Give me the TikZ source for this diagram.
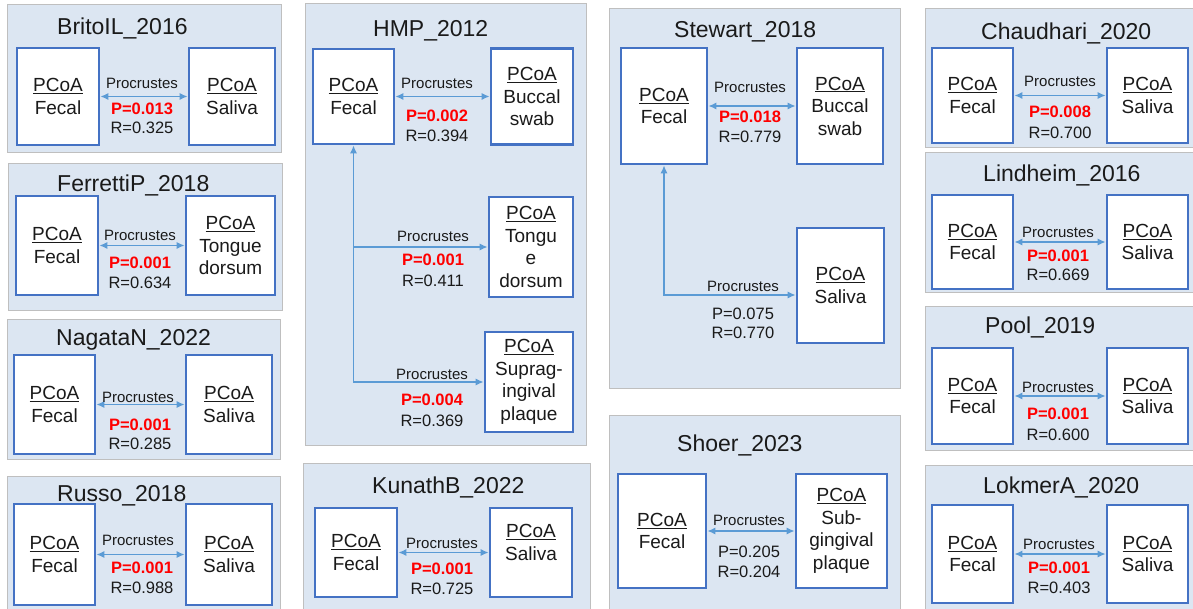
\documentclass[tikz,border=0pt]{standalone}
\usepackage{fontspec}
\setmainfont{Liberation Sans}
\usetikzlibrary{arrows.meta}
\definecolor{panelbg}{HTML}{DCE6F2}
\definecolor{panelline}{HTML}{BFBFBF}
\definecolor{boxline}{HTML}{4472C4}
\definecolor{arrowline}{HTML}{5B9BD5}
\definecolor{pred}{HTML}{FF0000}
\definecolor{txt}{HTML}{1A1A1A}

\begin{document}
\begin{tikzpicture}[x=1pt,y=-1pt,
  panel/.style={fill=panelbg,draw=panelline,line width=1pt},
  title/.style={anchor=west,inner sep=0pt,text=txt,font=\fontsize{23}{27}\selectfont,text height=16.4pt,text depth=0pt},
  pcoa/.style={draw=boxline,fill=white,line width=2.6pt,align=center,inner sep=0pt,text=txt,font=\fontsize{19}{22.5}\selectfont},
  link/.style={arrowline,line width=1.5pt,>={Latex[length=8pt,width=7pt]}},
  proc/.style={inner sep=0pt,text=txt,font=\fontsize{15}{18}\selectfont,text height=10.7pt,text depth=0pt},
  pv/.style={inner sep=0pt,text=pred,font=\bfseries\fontsize{16.5}{20}\selectfont,text height=11.8pt,text depth=0pt},
  rv/.style={inner sep=0pt,text=txt,font=\fontsize{16.5}{20}\selectfont,text height=11.8pt,text depth=0pt}]
\useasboundingbox (0,0) rectangle (1193,609);

% BritoIL_2016
\draw[panel] (7,5) rectangle (281,153);
\node[title] (brt) at (57,26) {BritoIL\_2016};
\node[pcoa,minimum width=82pt,minimum height=97pt] (brf) at (58,96.5) {\underline{PCoA}\\Fecal};
\node[pcoa,minimum width=86pt,minimum height=97pt] (brs) at (232,96.5) {\underline{PCoA}\\Saliva};
\path[link,<->] (brf) edge (brs);
\node[proc] (brc) at (142,83) {Procrustes};
\node[pv] (brp) at (142,109) {P=0.013};
\node[rv] (brr) at (142,128) {R=0.325};

% FerrettiP_2018
\draw[panel] (8,164) rectangle (282,311);
\node[title] (fet) at (57,183) {FerrettiP\_2018};
\node[pcoa,minimum width=82pt,minimum height=99pt] (fef) at (57,245.5) {\underline{PCoA}\\Fecal};
\node[pcoa,minimum width=89pt,minimum height=99pt] (fes) at (230.5,245.5) {\underline{PCoA}\\Tongue\\dorsum};
\path[link,<->] (fef) edge (fes);
\node[proc] (fec) at (140,235) {Procrustes};
\node[pv] (fep) at (140,263) {P=0.001};
\node[rv] (fer) at (140,283) {R=0.634};

% NagataN_2022
\draw[panel] (7,320) rectangle (280,459);
\node[title] (nat) at (56,337) {NagataN\_2022};
\node[pcoa,minimum width=81pt,minimum height=99pt] (naf) at (54.5,404.5) {\underline{PCoA}\\Fecal};
\node[pcoa,minimum width=86pt,minimum height=99pt] (nas) at (229,404.5) {\underline{PCoA}\\Saliva};
\path[link,<->] (naf) edge (nas);
\node[proc] (nac) at (138,397) {Procrustes};
\node[pv] (nap) at (140,425) {P=0.001};
\node[rv] (nar) at (140,444) {R=0.285};

% Russo_2018
\draw[panel] (7,476) rectangle (280,620);
\node[title] (rut) at (57,493) {Russo\_2018};
\node[pcoa,minimum width=81pt,minimum height=101pt] (ruf) at (54.5,554.5) {\underline{PCoA}\\Fecal};
\node[pcoa,minimum width=86pt,minimum height=101pt] (rus) at (229,554.5) {\underline{PCoA}\\Saliva};
\path[link,<->] (ruf) edge (rus);
\node[proc] (ruc) at (138,540) {Procrustes};
\node[pv] (rup) at (142,568) {P=0.001};
\node[rv] (rur) at (142,588) {R=0.988};

% HMP_2012
\draw[panel] (305,4) rectangle (586,445);
\node[title] (hmt) at (373,28) {HMP\_2012};
\node[pcoa,minimum width=81pt,minimum height=95pt] (hmf) at (353.5,96.5) {\underline{PCoA}\\Fecal};
\node[pcoa,minimum width=82pt,minimum height=96pt] (hmb) at (532,96.5) {\underline{PCoA}\\Buccal\\swab};
\node[pcoa,minimum width=84pt,minimum height=100pt] (hmd) at (531,247) {\underline{PCoA}\\Tongu\\e\\dorsum};
\node[pcoa,minimum width=88pt,minimum height=100pt] (hms) at (529,382) {\underline{PCoA}\\Suprag-\\ingival\\plaque};
\path[link,<->] (hmf) edge (hmb);
\draw[link,<->] (hmf) |- (hms);
\draw[link,->] (hmf |- hmd) -- (hmd);
\node[proc] (hmc1) at (437,83) {Procrustes};
\node[pv] (hmp1) at (437,116) {P=0.002};
\node[rv] (hmr1) at (437,136) {R=0.394};
\node[proc] (hmc2) at (433,236) {Procrustes};
\node[pv] (hmp2) at (433,260) {P=0.001};
\node[rv] (hmr2) at (433,281) {R=0.411};
\node[proc] (hmc3) at (432,374) {Procrustes};
\node[pv] (hmp3) at (432,400) {P=0.004};
\node[rv] (hmr3) at (432,421) {R=0.369};

% KunathB_2022
\draw[panel] (303,463) rectangle (590,620);
\node[title] (kut) at (372,485) {KunathB\_2022};
\node[pcoa,minimum width=82pt,minimum height=89pt] (kuf) at (356,552.5) {\underline{PCoA}\\Fecal};
\node[pcoa,minimum width=82pt,minimum height=89pt,text depth=20pt] (kus) at (531,552.5) {\underline{PCoA}\\Saliva};
\path[link,<->] (kuf) edge (kus);
\node[proc] (kuc) at (442,543) {Procrustes};
\node[pv] (kup) at (442,569) {P=0.001};
\node[rv] (kur) at (442,589) {R=0.725};

% Stewart_2018
\draw[panel] (609,9) rectangle (900,388);
\node[title] (stt) at (674,29) {Stewart\_2018};
\node[pcoa,minimum width=86pt,minimum height=116pt] (stf) at (664,106) {\underline{PCoA}\\Fecal};
\node[pcoa,minimum width=86pt,minimum height=116pt] (stb) at (840,106) {\underline{PCoA}\\Buccal\\swab};
\node[pcoa,minimum width=87pt,minimum height=115pt] (sts) at (840.5,285.5) {\underline{PCoA}\\Saliva};
\path[link,<->] (stf) edge (stb);
\draw[link,<->] (stf) |- ([yshift=-9.5pt]sts.west);
\node[proc] (stc1) at (750,87) {Procrustes};
\node[pv] (stp1) at (750,117) {P=0.018};
\node[rv] (str1) at (750,137) {R=0.779};
\node[proc] (stc2) at (743,286) {Procrustes};
\node[rv] (stp2) at (743,314) {P=0.075};
\node[rv] (str2) at (743,333) {R=0.770};

% Shoer_2023
\draw[panel] (609,415) rectangle (900,620);
\node[title] (sht) at (677,443) {Shoer\_2023};
\node[pcoa,minimum width=88pt,minimum height=114pt] (shf) at (662,531) {\underline{PCoA}\\Fecal};
\node[pcoa,minimum width=91pt,minimum height=114pt] (shs) at (841.5,531) {\underline{PCoA}\\Sub-\\gingival\\plaque};
\path[link,<->] (shf) edge (shs);
\node[proc] (shc) at (749,520) {Procrustes};
\node[rv] (shp) at (749,552) {P=0.205};
\node[rv] (shr) at (749,572) {R=0.204};

% Chaudhari_2020
\draw[panel] (925,9) rectangle (1200,148);
\node[title] (cht) at (981,31) {Chaudhari\_2020};
\node[pcoa,minimum width=81pt,minimum height=95pt] (chf) at (972.5,95.5) {\underline{PCoA}\\Fecal};
\node[pcoa,minimum width=81pt,minimum height=95pt] (chs) at (1147.5,95.5) {\underline{PCoA}\\Saliva};
\path[link,<->] (chf) edge (chs);
\node[proc] (chc) at (1060,81) {Procrustes};
\node[pv] (chp) at (1060,112) {P=0.008};
\node[rv] (chr) at (1060,133) {R=0.700};

% Lindheim_2016
\draw[panel] (925,153) rectangle (1200,293);
\node[title] (lit) at (983,173) {Lindheim\_2016};
\node[pcoa,minimum width=81pt,minimum height=94pt] (lif) at (972.5,242) {\underline{PCoA}\\Fecal};
\node[pcoa,minimum width=81pt,minimum height=94pt] (lis) at (1147.5,242) {\underline{PCoA}\\Saliva};
\path[link,<->] (lif) edge (lis);
\node[proc] (lic) at (1058,232) {Procrustes};
\node[pv] (lip) at (1058,256) {P=0.001};
\node[rv] (lir) at (1058,275) {R=0.669};

% Pool_2019
\draw[panel] (925,307) rectangle (1200,450);
\node[title] (pot) at (985,325) {Pool\_2019};
\node[pcoa,minimum width=81pt,minimum height=96pt] (pof) at (972.5,396) {\underline{PCoA}\\Fecal};
\node[pcoa,minimum width=81pt,minimum height=96pt] (pos) at (1147.5,396) {\underline{PCoA}\\Saliva};
\path[link,<->] (pof) edge (pos);
\node[proc] (poc) at (1058,387) {Procrustes};
\node[pv] (pop) at (1058,414) {P=0.001};
\node[rv] (por) at (1058,435) {R=0.600};

% LokmerA_2020
\draw[panel] (925,465) rectangle (1200,620);
\node[title] (lot) at (983,485) {LokmerA\_2020};
\node[pcoa,minimum width=81pt,minimum height=98pt] (lof) at (972.5,554) {\underline{PCoA}\\Fecal};
\node[pcoa,minimum width=81pt,minimum height=98pt] (los) at (1147.5,554) {\underline{PCoA}\\Saliva};
\path[link,<->] (lof) edge (los);
\node[proc] (loc) at (1059,544) {Procrustes};
\node[pv] (lop) at (1059,568) {P=0.001};
\node[rv] (lor) at (1059,588) {R=0.403};

\end{tikzpicture}
\end{document}
